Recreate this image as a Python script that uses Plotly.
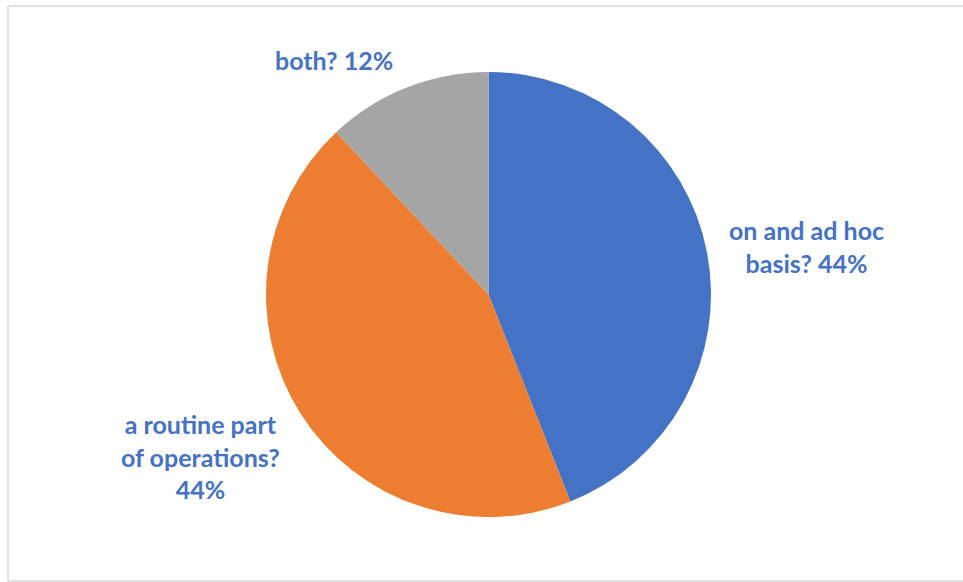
import plotly.graph_objects as go

categories = ["on and ad hoc basis?", "a routine part of operations?", "both?"]
values = [44, 44, 12]
label_texts = ["on and ad hoc<br>basis? 44%", "a routine part<br>of operations?<br>44%", "both? 12%"]
colors = ["#4472C4", "#ED7D31", "#A5A5A5"]

W, H = 963, 582

def px(x):
    return x / W

def py(y):
    return 1 - y / H

fig = go.Figure(go.Pie(
    labels=categories,
    values=values,
    sort=False,
    direction="clockwise",
    rotation=0,
    marker=dict(colors=colors, line=dict(width=0)),
    textinfo="none",
    hoverinfo="label+percent",
    showlegend=False,
    domain=dict(x=[px(266), px(711)], y=[py(517), py(72)]),
))

label_pos = [(806, 246), (200, 456), (334, 60)]
for txt, (x, y) in zip(label_texts, label_pos):
    fig.add_annotation(
        x=px(x), y=py(y), xref="paper", yref="paper",
        text=txt, showarrow=False, align="center",
        xanchor="center", yanchor="middle",
        font=dict(family="Lato", size=25, color="#4472C4", weight="bold"),
    )

border = dict(color="#D9D9D9", width=1.5)
# left, top, bottom edges of the chart frame (right edge lies outside the view)
fig.add_shape(type="line", xref="paper", yref="paper",
              x0=px(8), x1=px(8), y0=py(581), y1=py(6), line=border)
fig.add_shape(type="line", xref="paper", yref="paper",
              x0=px(8), x1=1.0, y0=py(6), y1=py(6), line=border)
fig.add_shape(type="line", xref="paper", yref="paper",
              x0=px(8), x1=1.0, y0=py(581), y1=py(581), line=border)

fig.update_layout(
    width=W, height=H,
    margin=dict(l=0, r=0, t=0, b=0),
    paper_bgcolor="white",
    plot_bgcolor="white",
)

fig.write_html("out.html", config={"displayModeBar": False},
               post_script="document.body.style.margin='0px';")
